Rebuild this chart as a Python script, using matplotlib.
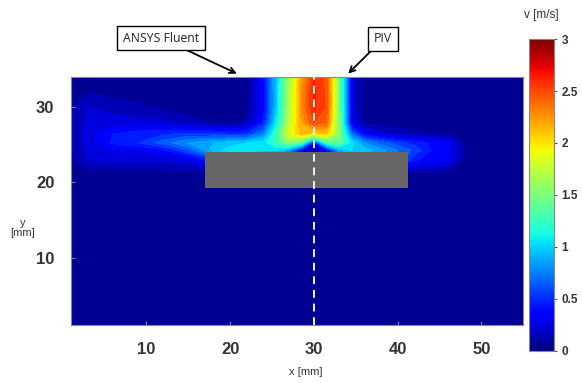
import numpy as np
import matplotlib
matplotlib.use("Agg")
import matplotlib.pyplot as plt
from matplotlib.patches import Rectangle
from matplotlib.colors import Normalize
from matplotlib.cm import ScalarMappable

# grid of the velocity field [mm]
x_mm = [1, 3, 6, 9, 12, 15, 18, 20, 22, 24, 25.5, 27, 28.5, 30, 31.5, 33, 34.5,
        36, 38, 40, 42, 44, 46, 48, 51, 55]
y_mm = [1, 18, 21, 23, 24.3, 25.3, 26.5, 28, 30, 32, 34]

# velocity magnitude [m/s], one row per y_mm
v_rows = [
    [0.02] * 26,
    [0.03] * 26,
    [0.04] * 26,
    [0.08, 0.20, 0.22, 0.22, 0.22, 0.25, 0.50, 0.70, 0.80, 0.85, 0.90, 0.80, 0.40,
     0.10, 0.40, 0.80, 0.90, 0.85, 0.80, 0.70, 0.42, 0.36, 0.30, 0.08, 0.05, 0.04],
    [0.10, 0.22, 0.28, 0.30, 0.38, 0.60, 0.95, 1.05, 1.05, 1.00, 1.00, 0.85, 0.35,
     0.08, 0.35, 0.85, 1.00, 0.95, 0.85, 0.70, 0.58, 0.40, 0.34, 0.10, 0.05, 0.04],
    [0.10, 0.25, 0.42, 0.50, 0.65, 0.80, 0.90, 0.95, 1.00, 1.05, 1.25, 1.55, 1.35,
     0.40, 1.30, 1.40, 1.05, 0.80, 0.65, 0.55, 0.46, 0.38, 0.32, 0.08, 0.05, 0.04],
    [0.10, 0.25, 0.40, 0.45, 0.48, 0.52, 0.50, 0.48, 0.50, 0.75, 1.25, 1.85, 2.15,
     2.00, 2.10, 1.55, 0.70, 0.35, 0.22, 0.16, 0.12, 0.10, 0.08, 0.05, 0.04, 0.04],
    [0.10, 0.22, 0.24, 0.24, 0.22, 0.15, 0.08, 0.06, 0.12, 0.45, 1.05, 1.70, 2.20,
     2.50, 2.40, 1.50, 0.30, 0.08, 0.05, 0.04, 0.04, 0.04, 0.04, 0.04, 0.04, 0.04],
    [0.08, 0.20, 0.17, 0.12, 0.08, 0.05, 0.05, 0.05, 0.06, 0.35, 0.95, 1.65, 2.25,
     2.62, 2.48, 1.50, 0.25, 0.06, 0.04, 0.04, 0.04, 0.04, 0.04, 0.04, 0.04, 0.04],
    [0.05, 0.10, 0.06, 0.05, 0.05, 0.05, 0.05, 0.05, 0.06, 0.35, 0.95, 1.65, 2.25,
     2.62, 2.48, 1.50, 0.25, 0.06, 0.04, 0.04, 0.04, 0.04, 0.04, 0.04, 0.04, 0.04],
    [0.04, 0.05, 0.05, 0.05, 0.05, 0.05, 0.05, 0.05, 0.05, 0.40, 0.95, 1.60, 2.20,
     2.60, 2.45, 1.50, 0.25, 0.06, 0.04, 0.04, 0.04, 0.04, 0.04, 0.04, 0.04, 0.04],
]

# obstacle (gray block) [mm]
block_x = (17, 41.3)
block_y = (19.3, 24.0)
piv_x = 30

x_ticks = [10, 20, 30, 40, 50]
y_ticks = [10, 20, 30]
cbar_ticks = [0, 0.5, 1, 1.5, 2, 2.5, 3]

v = np.array(v_rows)
X, Y = np.meshgrid(x_mm, y_mm)

fig = plt.figure(figsize=(5.82, 3.83), dpi=100)
ax = fig.add_axes([0.122, 0.151, 0.777, 0.647])
cax = fig.add_axes([0.909, 0.084, 0.043, 0.814])

norm = Normalize(vmin=0, vmax=3)
levels = np.linspace(0, 3, 31)
ax.contourf(X, Y, v, levels=levels, cmap="jet", norm=norm)

ax.add_patch(Rectangle((block_x[0], block_y[0]), block_x[1] - block_x[0],
                       block_y[1] - block_y[0], facecolor="#666666",
                       edgecolor="none", zorder=3))
ax.axvline(piv_x, color="#f2f2f2", lw=1.4, ls=(0, (4, 3)), zorder=4)

ax.set_xlim(1, 55)
ax.set_ylim(1, 34)
ax.set_xticks(x_ticks)
ax.set_yticks(y_ticks)
ax.tick_params(direction="in", length=3, color="#888888", labelsize=12,
               labelcolor="#333333", pad=12)
for lab in ax.get_xticklabels() + ax.get_yticklabels():
    lab.set_fontweight("bold")
    lab.set_family("Liberation Sans")
for sp in ax.spines.values():
    sp.set_color("#888888")
    sp.set_linewidth(0.8)

fig.text(306 / 582, 1 - 372 / 383, "x [mm]", ha="center", va="center",
         fontsize=8, color="#333333", family="Liberation Sans")
fig.text(23 / 582, 1 - 228 / 383, "y\n[mm]", ha="center", va="center",
         fontsize=8, color="#333333", family="Liberation Sans", linespacing=1.1)

# continuous colour scale
cb = fig.colorbar(ScalarMappable(norm=norm, cmap="jet"), cax=cax, ticks=cbar_ticks)
cb.outline.set_edgecolor("#888888")
cb.ax.tick_params(length=2, labelsize=8.5, labelcolor="#333333", color="#555555")
cb.ax.set_yticklabels([f"{t:g}" for t in cbar_ticks], fontweight="bold",
                      family="Liberation Sans")
fig.text(541 / 582, 1 - 15 / 383, "v [m/s]", ha="center", va="center",
         fontsize=8.5, color="#333333", family="Liberation Sans")

box = dict(boxstyle="square,pad=0.45", fc="white", ec="black", lw=1)
arrow = dict(arrowstyle="->", color="black", lw=1.3, mutation_scale=10,
             shrinkA=0, shrinkB=0)
ax.annotate("ANSYS Fluent", xy=(20.8, 34.5), xycoords="data",
            xytext=(161 / 582, 1 - 38 / 383), textcoords="figure fraction",
            ha="center", va="center", fontsize=8.8, family="Open Sans",
            color="#222222", bbox=box, arrowprops=arrow, annotation_clip=False)
ax.annotate("PIV", xy=(34.1, 34.5), xycoords="data",
            xytext=(383 / 582, 1 - 39 / 383), textcoords="figure fraction",
            ha="center", va="center", fontsize=8.8, family="Open Sans",
            color="#222222", bbox=box, arrowprops=arrow, annotation_clip=False)

fig.savefig("out.png", dpi=100)
